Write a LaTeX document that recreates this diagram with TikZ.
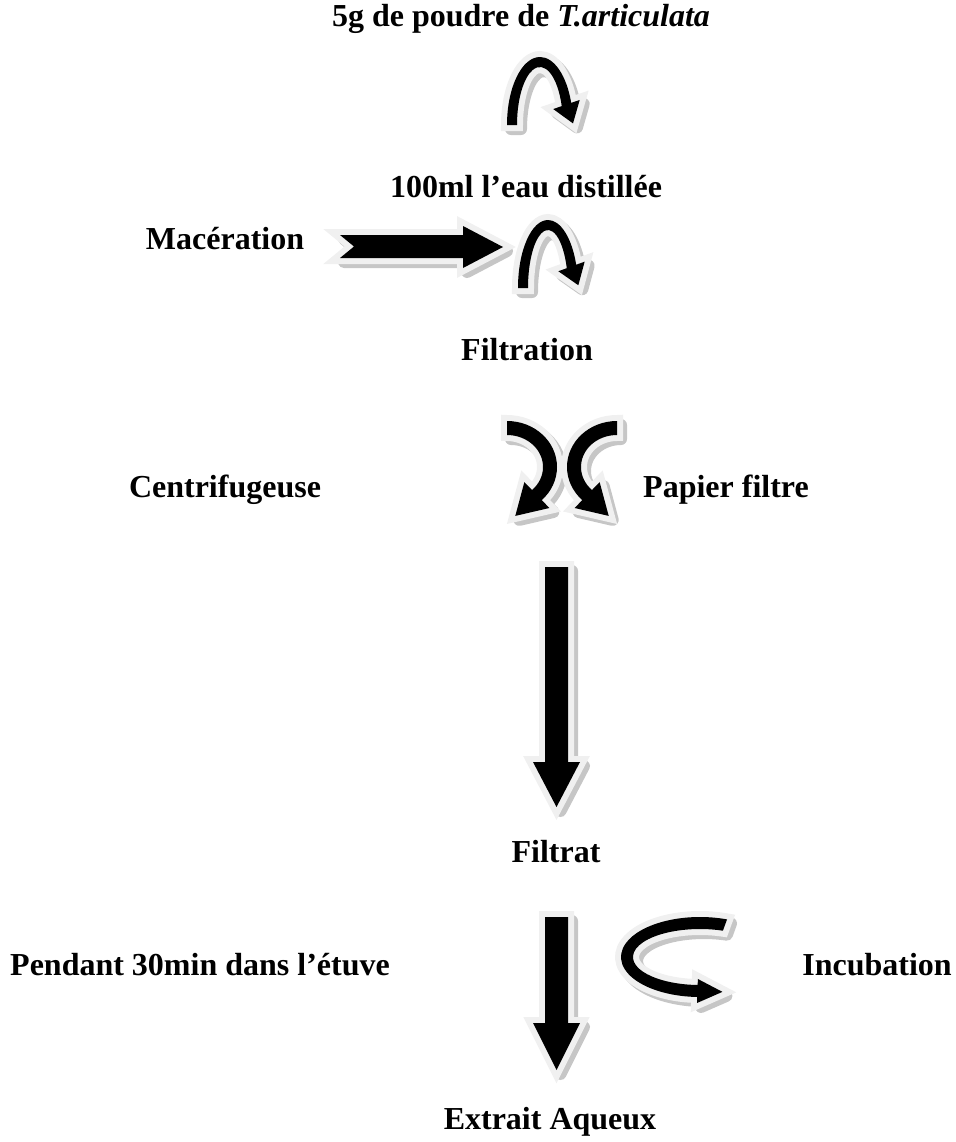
\documentclass[tikz,border=0pt]{standalone}
\usepackage{fontspec}
\setmainfont{Liberation Serif}
\usetikzlibrary{calc}

% block arrow with its grey shadow: #1 is the path
\newcommand{\shadedarrow}[1]{%
  \path[shadowfill, shift={(4,4)}] #1;
  \path[blk] #1;
}

% bent block arrow along an elliptic arc
% #1,#2 centre, #3,#4 radii, #5 start, #6 end, #7 half band, #8 half head, #9 head length
\newcommand{\bentarrow}[9]{%
  \pgfmathsetmacro\brot{(#6>#5) ? -90 : 90}%
  \pgfmathsetmacro\rxo{#3+#7}\pgfmathsetmacro\ryo{#4+#7}%
  \pgfmathsetmacro\rxi{#3-#7}\pgfmathsetmacro\ryi{#4-#7}%
  \pgfmathsetmacro\wingf{#8/#7}\pgfmathsetmacro\tipf{#9/#7}%
  \foreach \sty/\dd in {shadowfill/4, blk/0} {
    \begin{scope}[shift={(\dd,\dd)}]
      \coordinate (bc) at (#1,#2);
      \coordinate (po) at ($(bc)+(#6:{\rxo} and {\ryo})$);
      \coordinate (pi) at ($(bc)+(#6:{\rxi} and {\ryi})$);
      \coordinate (pm) at ($(po)!0.5!(pi)$);
      \coordinate (wo) at ($(pm)!\wingf!(po)$);
      \coordinate (wi) at ($(pm)!\wingf!(pi)$);
      \coordinate (tip) at ($(pm)!\tipf!\brot:(po)$);
      \path[\sty] ($(bc)+(#5:{\rxo} and {\ryo})$)
        arc[start angle=#5, end angle=#6, x radius=\rxo, y radius=\ryo]
        -- (wo) -- (tip) -- (wi) -- (pi)
        arc[start angle=#6, end angle=#5, x radius=\rxi, y radius=\ryi] -- cycle;
    \end{scope}
  }
}

\begin{document}
\begin{tikzpicture}[
    x=0.375pt, y=-0.375pt,
    lab/.style={font=\fontsize{12}{14}\selectfont\bfseries, anchor=base, inner sep=0pt},
    blk/.style={fill=black, line join=round,
        preaction={draw=gray!12, line width=4.5pt}},
    shadowfill/.style={fill=gray!45, draw=gray!45, line width=4.5pt, line join=round},
]
\useasboundingbox (0,0) rectangle (956,1142);

% Texts
\node[lab] (powder) at (521,26) {5g de poudre de \textit{T.articulata}};
\node[lab] (water) at (526,197) {100ml l’eau distillée};
\node[lab] (maceration) at (225,249) {Macération};
\node[lab] (filtration) at (527,360) {Filtration};
\node[lab] (centri) at (225,497) {Centrifugeuse};
\node[lab] (paper) at (726,497) {Papier filtre};
\node[lab] (filtrate) at (556,862) {Filtrat};
\node[lab] (oven) at (200,975) {Pendant 30min dans l’étuve};
\node[lab] (incub) at (877,975) {Incubation};
\node[lab] (extract) at (550,1129) {Extrait Aqueux};

% Powder into water
\bentarrow{540}{125}{28}{63}{180}{341}{5}{14}{20}

% Maceration
\shadedarrow{(340,235) -- (463,235) -- (463,226) -- (503,247) -- (463,268) -- (463,258) -- (340,258) -- (354,246.5) -- cycle}
\bentarrow{548}{288}{25}{63}{180}{340}{5}{14}{20}

% Split: centrifuge / filter paper
\bentarrow{507}{467}{43}{39}{-90}{46}{7}{18}{30}
\bentarrow{617}{467}{43}{39}{270}{134}{7}{18}{30}

% Filtrate
\shadedarrow{(545,567) -- (568,567) -- (568,762) -- (580,762) -- (556.5,807) -- (533,762) -- (545,762) -- cycle}

% Incubation
\shadedarrow{(545,917) -- (568,917) -- (568,1023) -- (580,1023) -- (556.5,1070) -- (533,1023) -- (545,1023) -- cycle}
\bentarrow{700}{957}{73}{34}{290}{92}{6}{12}{25}

\end{tikzpicture}
\end{document}
